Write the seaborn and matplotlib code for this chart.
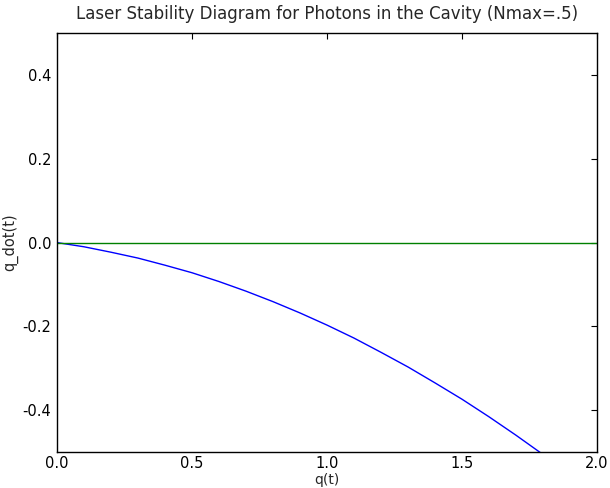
import numpy as np
import pandas as pd
import matplotlib
matplotlib.use("Agg")
import matplotlib.pyplot as plt
import seaborn as sns

# data
q = [0.0, 0.1, 0.2, 0.3, 0.4, 0.5, 0.6, 0.7, 0.8, 0.9, 1.0,
     1.1, 1.2, 1.3, 1.4, 1.5, 1.6, 1.7, 1.8, 1.9, 2.0]
q_dot = [0.0, -0.010, -0.023, -0.037, -0.054, -0.072, -0.093, -0.116, -0.141, -0.168, -0.197,
         -0.228, -0.262, -0.297, -0.335, -0.374, -0.416, -0.460, -0.506, -0.554, -0.604]
zero_line = [0.0] * len(q)

df = pd.DataFrame({"q": q, "q_dot": q_dot, "zero": zero_line})

sns.set_style("white")
plt.rcParams['font.family'] = ['DejaVu Sans']
plt.rcParams['axes.unicode_minus'] = False

fig = plt.figure(figsize=(6.1, 4.88), dpi=100)
ax = fig.add_axes([0.0934, 0.0738, 0.8853, 0.8582])

sns.lineplot(data=df, x="q", y="q_dot", color="#0000ff", linewidth=1.0, ax=ax)
sns.lineplot(data=df, x="q", y="zero", color="#008000", linewidth=1.0, ax=ax)

ax.set_xlim(0, 2.0)
ax.set_ylim(-0.5, 0.5)
ax.set_xticks([0.0, 0.5, 1.0, 1.5, 2.0])
ax.set_yticks([-0.4, -0.2, 0.0, 0.2, 0.4])
ax.tick_params(direction="in", top=True, right=True, length=4, labelsize=10.5,
               colors="black", pad=4)
ax.tick_params(axis="x", pad=3)
for s in ax.spines.values():
    s.set_color("black")
    s.set_linewidth(1.0)

ax.set_title("Laser Stability Diagram for Photons in the Cavity (Nmax=.5)", fontsize=12, pad=10)
ax.set_xlabel("q(t)", fontsize=10)
ax.set_ylabel("q_dot(t)", fontsize=10.5)
ax.xaxis.set_label_coords(0.5, -0.049)
ax.yaxis.set_label_coords(-0.072, 0.5)

fig.savefig("out.png", dpi=100)
